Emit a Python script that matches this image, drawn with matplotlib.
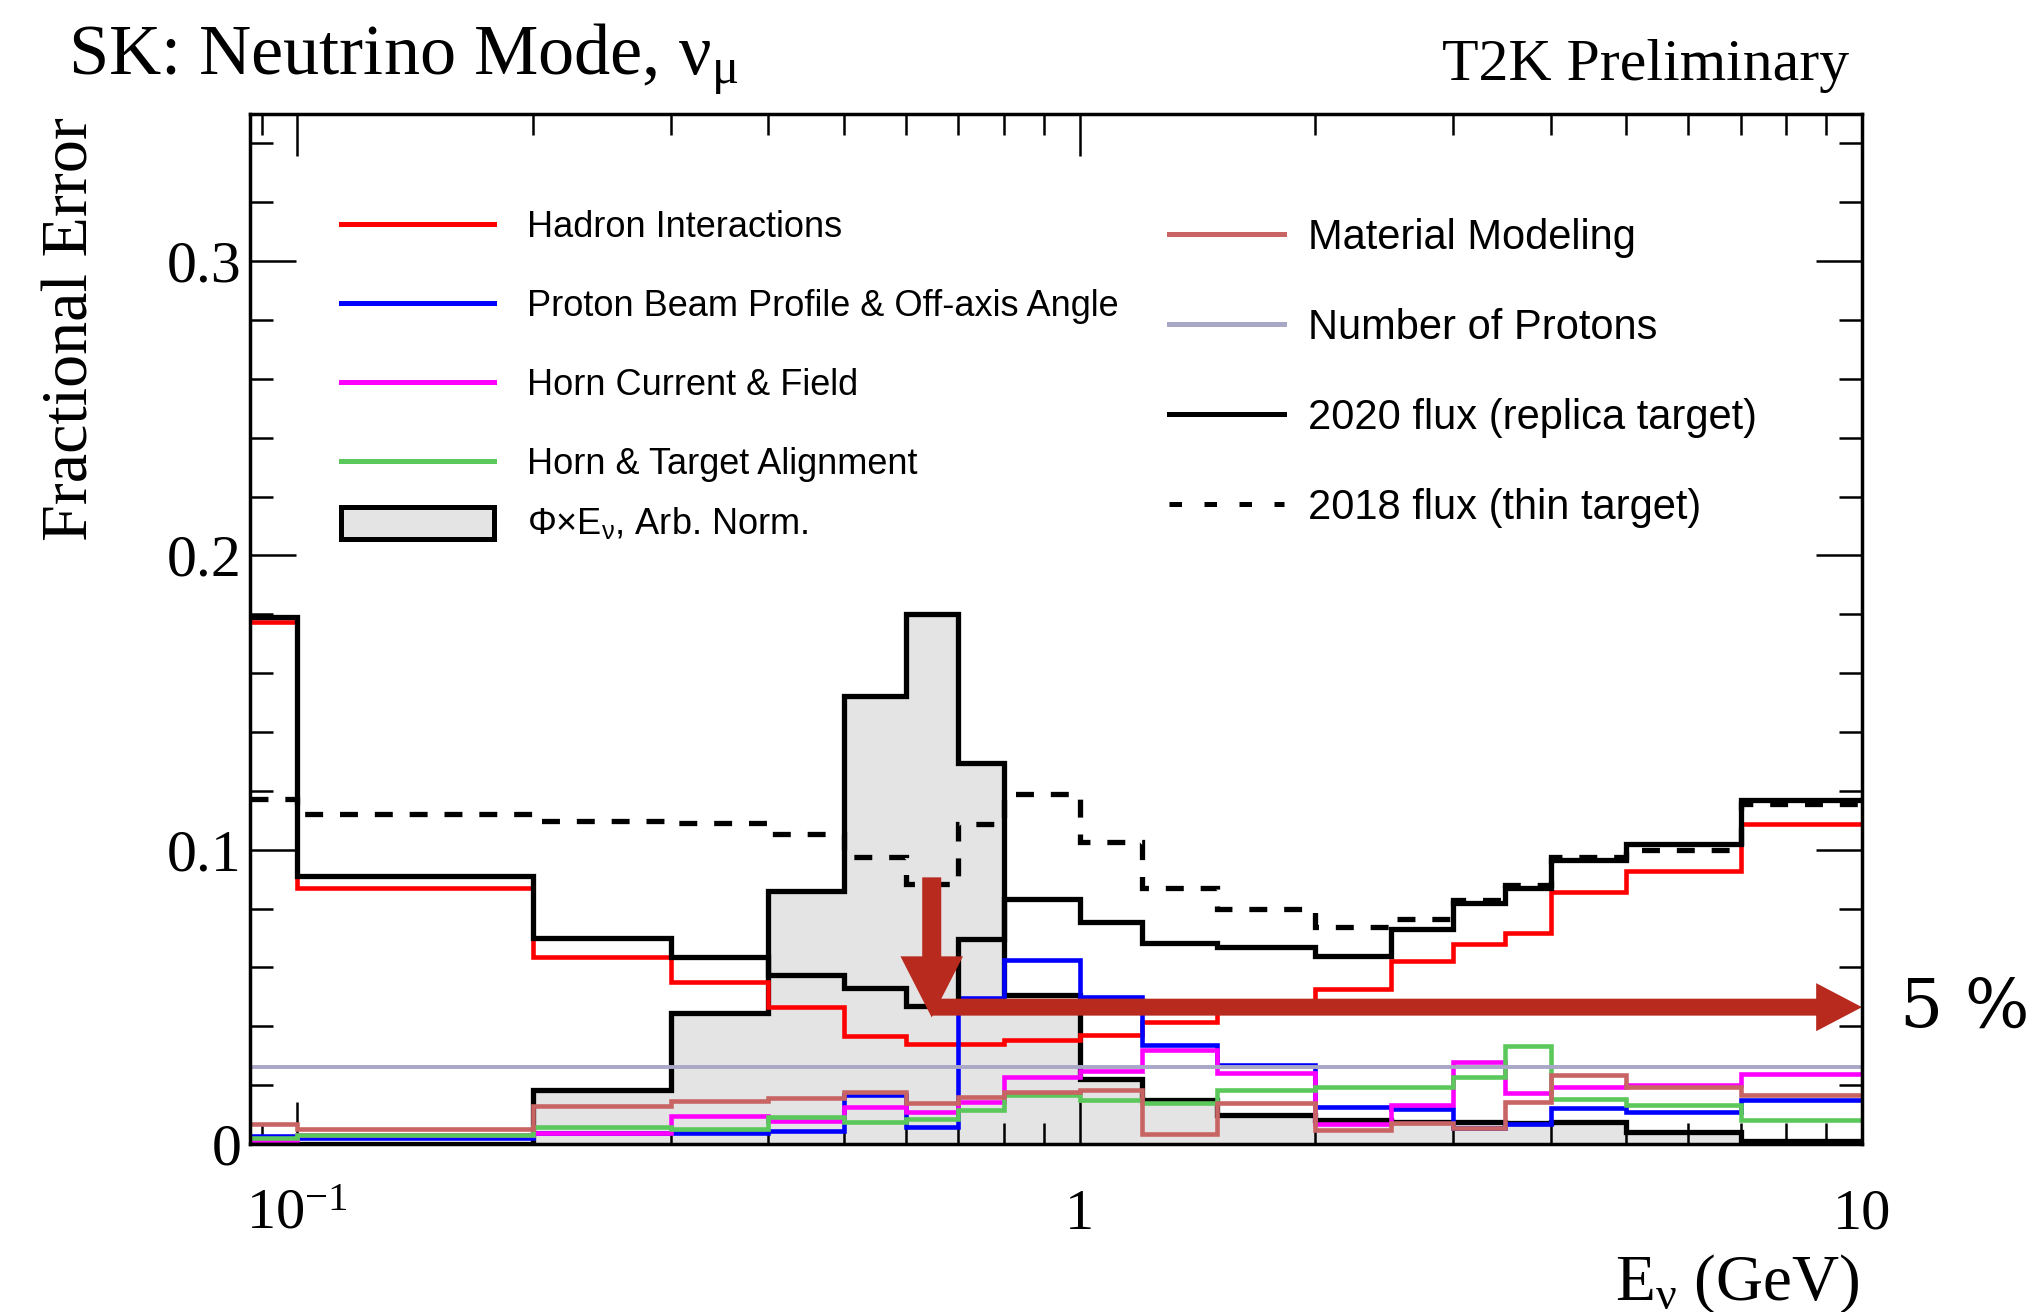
import numpy as np
import matplotlib
matplotlib.use("Agg")
import matplotlib.pyplot as plt
from matplotlib.lines import Line2D
from matplotlib.patches import Patch
from matplotlib.ticker import FixedLocator, LogLocator, MultipleLocator, NullFormatter, FuncFormatter

plt.rcParams['font.family'] = ['Liberation Serif', 'DejaVu Serif']
plt.rcParams['mathtext.fontset'] = 'custom'
plt.rcParams['mathtext.rm'] = 'Liberation Serif'
plt.rcParams['mathtext.it'] = 'Liberation Serif:italic'
plt.rcParams['mathtext.sf'] = 'Liberation Sans'

# SK nu_mu flux binning (GeV), first bin starts at 0
bin_edges = [0.0, 0.1, 0.2, 0.3, 0.4, 0.5, 0.6, 0.7, 0.8, 1.0, 1.2, 1.5,
             2.0, 2.5, 3.0, 3.5, 4.0, 5.0, 7.0, 10.0]

# fractional errors per bin
hadron = [0.1773, 0.087, 0.0635, 0.0551, 0.0465, 0.0368, 0.0340, 0.0341, 0.0352, 0.0371,
          0.0414, 0.0460, 0.0528, 0.0623, 0.0680, 0.0718, 0.0855, 0.0928, 0.1089]
beam = [0.0026, 0.0022, 0.0036, 0.0036, 0.0045, 0.0165, 0.0057, 0.0497, 0.0625, 0.0500,
        0.0335, 0.0270, 0.0127, 0.0120, 0.0054, 0.0068, 0.0123, 0.0108, 0.0150]
horn_current = [0.0013, 0.0029, 0.0039, 0.0095, 0.0077, 0.0125, 0.0110, 0.0144, 0.0227, 0.0247,
                0.0320, 0.0240, 0.0068, 0.0133, 0.0280, 0.0173, 0.0195, 0.0199, 0.0239]
horn_align = [0.0020, 0.0030, 0.0059, 0.0052, 0.0091, 0.0074, 0.0085, 0.0114, 0.0165, 0.0150,
              0.0139, 0.0184, 0.0195, 0.0195, 0.0226, 0.0332, 0.0153, 0.0131, 0.0080]
material = [0.0069, 0.0052, 0.0130, 0.0146, 0.0156, 0.0177, 0.0138, 0.0161, 0.0178, 0.0182,
            0.0033, 0.0138, 0.0048, 0.0070, 0.0055, 0.0142, 0.0236, 0.0193, 0.0165]
n_protons = [0.0263] * 19
total_2020 = [0.1790, 0.0910, 0.0700, 0.0635, 0.0573, 0.0530, 0.0470, 0.0697, 0.0831, 0.0755,
              0.0684, 0.0670, 0.0639, 0.0730, 0.0818, 0.0869, 0.0966, 0.1019, 0.1168]
total_2018 = [0.1172, 0.1120, 0.1096, 0.1090, 0.1053, 0.0975, 0.0882, 0.1087, 0.1189, 0.1025,
              0.0869, 0.0800, 0.0739, 0.0764, 0.0830, 0.0880, 0.0974, 0.1000, 0.1157]
# flux x E, arbitrary normalisation
flux = [0.0, 0.0, 0.0185, 0.0445, 0.0861, 0.1521, 0.1801, 0.1293, 0.0505, 0.0221,
        0.0148, 0.0100, 0.0082, 0.0075, 0.0076, 0.0070, 0.0074, 0.0040, 0.0011]

left_labels = ['Hadron Interactions', 'Proton Beam Profile & Off-axis Angle',
               'Horn Current & Field', 'Horn & Target Alignment']
flux_label = r'Φ×E$_\mathsf{ν}$, Arb. Norm.'
right_labels = ['Material Modeling', 'Number of Protons',
                '2020 flux (replica target)', '2018 flux (thin target)']

# annotation: arrow marking the 5% level
arrow_x = 0.647
arrow_top = 0.0906
arrow_tip = 0.043
level_y = 0.0465
level_end = 10.0

XMIN = 0.087
RED, BLUE, MAG, GREEN = '#ff0000', '#0000ff', '#ff00ff', '#5ac85a'
ROSY, LAV, FILL, ARROW = '#c86464', '#a9a7c6', '#e4e4e4', '#b8291e'

edges = np.array(bin_edges)
edges[0] = XMIN  # 0 cannot be shown on a log axis

fig = plt.figure(figsize=(20.39, 13.12), dpi=100)
ax = fig.add_axes([0.12261, 0.12805, 0.79058, 0.78506])
ax.set_xscale('log')

ax.stairs(flux, edges, fill=True, baseline=0, facecolor=FILL, edgecolor='none', zorder=1)
ax.stairs(flux, edges, baseline=None, color='black', lw=3.8, zorder=2)

lw = 3.3
ax.stairs(hadron, edges, baseline=None, color=RED, lw=lw, zorder=3)
ax.stairs(beam, edges, baseline=None, color=BLUE, lw=lw, zorder=3)
ax.stairs(horn_current, edges, baseline=None, color=MAG, lw=lw, zorder=3)
ax.stairs(horn_align, edges, baseline=None, color=GREEN, lw=lw, zorder=3)
ax.stairs(material, edges, baseline=None, color=ROSY, lw=lw, zorder=3.2)
ax.stairs(n_protons, edges, baseline=None, color=LAV, lw=2.8, zorder=3.3)
dash = ax.stairs(total_2018, edges, baseline=None, color='black', lw=3.8, zorder=4)
dash.set_linestyle((0, (3.4, 3.2)))
ax.stairs(total_2020, edges, baseline=None, color='black', lw=3.8, zorder=5)

ax.annotate('', xy=(arrow_x, arrow_tip), xytext=(arrow_x, arrow_top),
            arrowprops=dict(arrowstyle='simple,head_length=4.4,head_width=4.5,tail_width=1.37',
                            mutation_scale=10, color=ARROW, lw=0, shrinkA=0, shrinkB=0),
            annotation_clip=False, zorder=6)
ax.annotate('', xy=(level_end, level_y), xytext=(arrow_x, level_y),
            arrowprops=dict(arrowstyle='simple,head_length=3.3,head_width=3.46,tail_width=1.22',
                            mutation_scale=10, color=ARROW, lw=0, shrinkA=0, shrinkB=0),
            annotation_clip=False, zorder=6)
fig.text(0.9318, 0.2317, '5 %', family='DejaVu Serif', fontsize=49, va='center', ha='left')

ax.set_xlim(XMIN, 10)
ax.set_ylim(0, 0.35)

ax.xaxis.set_major_locator(FixedLocator([0.1, 1, 10]))
ax.set_xticklabels([r'10$^{\mathrm{-1}}$', '1', '10'])
ax.xaxis.set_minor_locator(LogLocator(base=10, subs=np.arange(2, 10), numticks=20))
ax.xaxis.set_minor_formatter(NullFormatter())
ax.yaxis.set_major_locator(MultipleLocator(0.1))
ax.yaxis.set_minor_locator(MultipleLocator(0.02))
ax.yaxis.set_major_formatter(FuncFormatter(lambda v, p: '0' if abs(v) < 1e-9 else f'{v:.1f}'))

ax.tick_params(which='both', direction='in', top=True, right=True, width=1.8)
ax.tick_params(axis='x', which='major', length=30, labelsize=42, pad=61)
ax.tick_params(axis='x', which='minor', length=15)
ax.tick_params(axis='y', which='major', length=33, labelsize=43, pad=6)
ax.tick_params(axis='y', which='minor', length=16.5)
plt.setp(ax.get_xticklabels(), va='baseline')
for s in ax.spines.values():
    s.set_linewidth(2.5)
    s.set_zorder(7)

ax.set_xlabel(r'E$_{\mathrm{ν}}$ (GeV)', fontsize=47, ha='right', va='baseline')
ax.xaxis.set_label_coords(0.9985, -0.1515)
ax.set_ylabel('Fractional Error', fontsize=47.5, ha='right', va='center')
ax.yaxis.set_label_coords(-0.1107, 0.997)

fig.text(0.0332, 0.9428, r'SK: Neutrino Mode, ν$_{\mathrm{μ}}$', fontsize=52, va='baseline')
fig.text(0.9068, 0.939, 'T2K Preliminary', fontsize=43, va='baseline', ha='right')

# legends
left_handles = [Line2D([], [], color=c, lw=3.6) for c in (RED, BLUE, MAG, GREEN)]
leg1 = ax.legend(left_handles, left_labels, loc='center left', bbox_to_anchor=(0.0564, 0.7749),
                 frameon=False, borderpad=0, borderaxespad=0, handlelength=4.24,
                 handletextpad=0.91, labelspacing=1.22,
                 prop={'family': 'Liberation Sans', 'size': 26})
ax.add_artist(leg1)
leg2 = ax.legend([Patch(facecolor=FILL, edgecolor='black', lw=3.6)], [flux_label],
                 loc='center left', bbox_to_anchor=(0.0564, 0.601), frameon=False,
                 borderpad=0, borderaxespad=0, handlelength=4.24, handleheight=1.0,
                 handletextpad=0.91, prop={'family': 'Liberation Sans', 'size': 26})
ax.add_artist(leg2)
right_handles = [Line2D([], [], color=ROSY, lw=3.6), Line2D([], [], color=LAV, lw=3.6),
                 Line2D([], [], color='black', lw=3.6),
                 Line2D([], [], color='black', lw=3.6, dashes=(2.5, 4.5))]
ax.legend(right_handles, right_labels, loc='center left', bbox_to_anchor=(0.570, 0.7487),
          frameon=False, borderpad=0, borderaxespad=0, handlelength=2.76,
          handletextpad=0.58, labelspacing=1.20,
          prop={'family': 'Liberation Sans', 'size': 30})

fig.savefig('out.png', dpi=100)
